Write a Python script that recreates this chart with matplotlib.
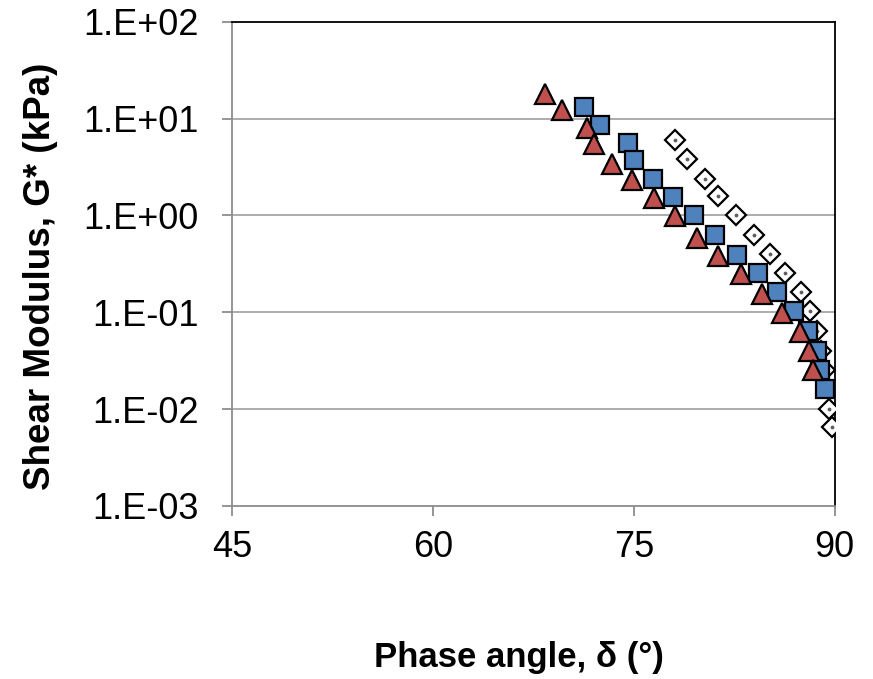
import matplotlib.pyplot as plt
from matplotlib.ticker import FixedLocator

plt.rcParams['font.family'] = ['Liberation Sans', 'DejaVu Sans']

# diamonds (white, dotted fill)
d_phase = [78.1, 79.0, 80.3, 81.3, 82.6, 84.0, 85.2, 86.3, 87.5, 88.2, 88.7, 89.0, 89.3, 89.6, 89.8]
d_g = [5.97, 3.8, 2.4, 1.57, 1.0, 0.63, 0.40, 0.255, 0.162, 0.103, 0.064, 0.04, 0.025, 0.010, 0.0065]

# squares (blue)
s_phase = [71.3, 72.5, 74.6, 75.0, 76.4, 77.9, 79.5, 81.1, 82.7, 84.3, 85.7, 87.0, 88.0, 88.7, 88.9, 89.3]
s_g = [13.1, 8.5, 5.6, 3.7, 2.35, 1.53, 1.0, 0.63, 0.39, 0.255, 0.162, 0.103, 0.064, 0.04, 0.025, 0.016]

# triangles (red)
t_phase = [68.4, 69.6, 71.5, 72.0, 73.4, 74.9, 76.5, 78.1, 79.7, 81.3, 83.0, 84.6, 86.1, 87.4, 88.1, 88.4]
t_g = [17.8, 12.2, 7.9, 5.4, 3.4, 2.3, 1.5, 0.98, 0.59, 0.38, 0.25, 0.155, 0.098, 0.063, 0.04, 0.025]

x_ticks = [45, 60, 75, 90]
y_ticks = [1e-3, 1e-2, 1e-1, 1e0, 1e1, 1e2]
y_labels = ["1.E-03", "1.E-02", "1.E-01", "1.E+00", "1.E+01", "1.E+02"]

fig = plt.figure(figsize=(8.73, 6.79), dpi=100)
ax = fig.add_axes([0.266, 0.255, 0.690, 0.713])

ax.set_yscale('log')
ax.set_xlim(45, 90)
ax.set_ylim(1e-3, 1e2)

for y in y_ticks[1:-1]:
    ax.axhline(y, color='#a6a6a6', lw=1.3, zorder=1)

ax.plot(d_phase, d_g, ls='none', marker='D', ms=10, mfc='white', mec='black', mew=1.6, zorder=3)
ax.plot(d_phase, d_g, ls='none', marker='.', ms=3.5, color='#606060', zorder=3)
ax.plot(s_phase, s_g, ls='none', marker='s', ms=13, mfc='#4f81bd', mec='black', mew=1.6, zorder=4)
ax.plot(t_phase, t_g, ls='none', marker='^', ms=14, mfc='#c0504d', mec='black', mew=1.6, zorder=5)

ax.xaxis.set_major_locator(FixedLocator(x_ticks))
ax.yaxis.set_major_locator(FixedLocator(y_ticks))
ax.yaxis.set_minor_locator(FixedLocator([]))
ax.set_yticklabels(y_labels)
ax.tick_params(axis='both', labelsize=26, color='#8c8c8c', width=1.3, length=7.2, direction='out')
ax.tick_params(axis='x', pad=10)
ax.tick_params(axis='y', pad=17)

ax.spines['left'].set_color('#8c8c8c')
ax.spines['bottom'].set_color('#8c8c8c')
ax.spines['top'].set_color('black')
ax.spines['right'].set_color('black')
for sp in ax.spines.values():
    sp.set_linewidth(1.3)

ax.set_xlabel('Phase angle, δ (°)', fontsize=25, fontweight='bold', va='center')
ax.set_ylabel('Shear Modulus, G* (kPa)', fontsize=26.5, fontweight='bold', va='center')
ax.xaxis.set_label_coords(0.476, -0.314)
ax.yaxis.set_label_coords(-0.318, 0.475)

fig.savefig('out.png', dpi=100)
